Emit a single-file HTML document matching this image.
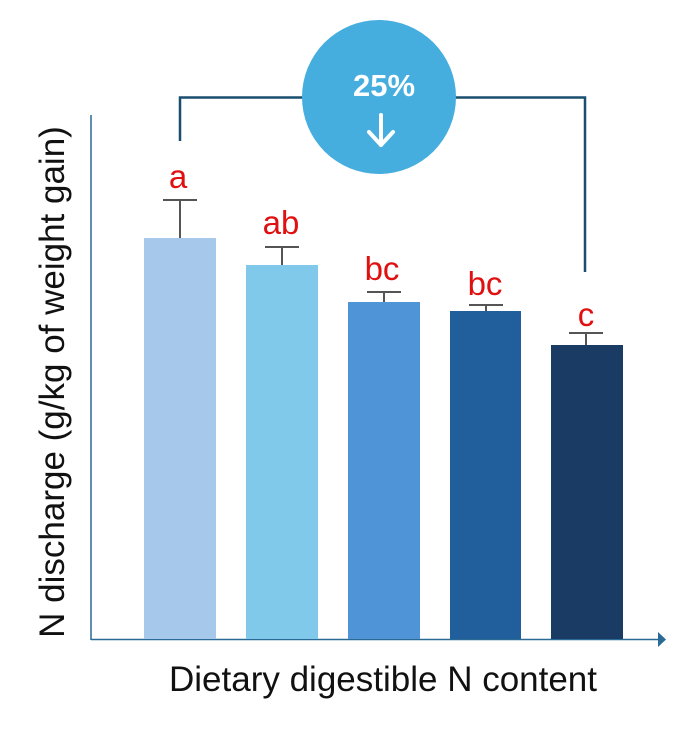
<!DOCTYPE html>
<html><head><style>
body{margin:0;background:#fff;}
svg{display:block;font-family:"Liberation Sans",Arial,sans-serif;}
</style></head><body>
<svg width="696" height="739" viewBox="0 0 696 739">
<line x1="91" y1="115" x2="91" y2="640" stroke="#2a6a94" stroke-width="1.5"/>
<line x1="91" y1="639.5" x2="660" y2="639.5" stroke="#2a6a94" stroke-width="1.5"/>
<polygon points="658,632 666,639.5 658,647" fill="#2a6a94"/>
<rect x="144" y="238" width="72" height="401" fill="#a6c9eb"/>
<rect x="246" y="265" width="72" height="374" fill="#81c9ea"/>
<rect x="348" y="302" width="72" height="337" fill="#4f94d6"/>
<rect x="450" y="311" width="71" height="328" fill="#215f9c"/>
<rect x="551" y="345" width="72" height="294" fill="#1a3c64"/>
<g stroke="#555" stroke-width="2">
<line x1="180" y1="200" x2="180" y2="238"/><line x1="163" y1="200" x2="197" y2="200"/>
<line x1="282" y1="247" x2="282" y2="265"/><line x1="265" y1="247" x2="299" y2="247"/>
<line x1="384" y1="292" x2="384" y2="302"/><line x1="367" y1="292" x2="401" y2="292"/>
<line x1="486" y1="305" x2="486" y2="311"/><line x1="469" y1="305" x2="503" y2="305"/>
<line x1="586" y1="333" x2="586" y2="345"/><line x1="569" y1="333" x2="603" y2="333"/>
</g>
<g fill="#e01010" font-size="33" text-anchor="middle">
<text x="178" y="188">a</text>
<text x="281" y="234">ab</text>
<text x="382" y="280">bc</text>
<text x="485" y="295">bc</text>
<text x="586" y="326">c</text>
</g>
<polyline points="180,141 180,97.5 585,97.5 585,272" fill="none" stroke="#1a4e6e" stroke-width="2.5"/>
<circle cx="379" cy="97" r="77" fill="#45aedf"/>
<text x="384" y="96" fill="#fff" font-size="31" font-weight="bold" text-anchor="middle">25%</text>
<g stroke="#fff" stroke-width="4" fill="none" stroke-linecap="round" stroke-linejoin="round">
<line x1="381" y1="115" x2="381" y2="145"/><polyline points="369,132 381,145 393,132"/>
</g>
<text x="383" y="691" font-size="35" text-anchor="middle" fill="#111">Dietary digestible N content</text>
<text transform="translate(64,382) rotate(-90)" font-size="35" text-anchor="middle" fill="#111">N discharge (g/kg of weight gain)</text>
</svg>
</body></html>
